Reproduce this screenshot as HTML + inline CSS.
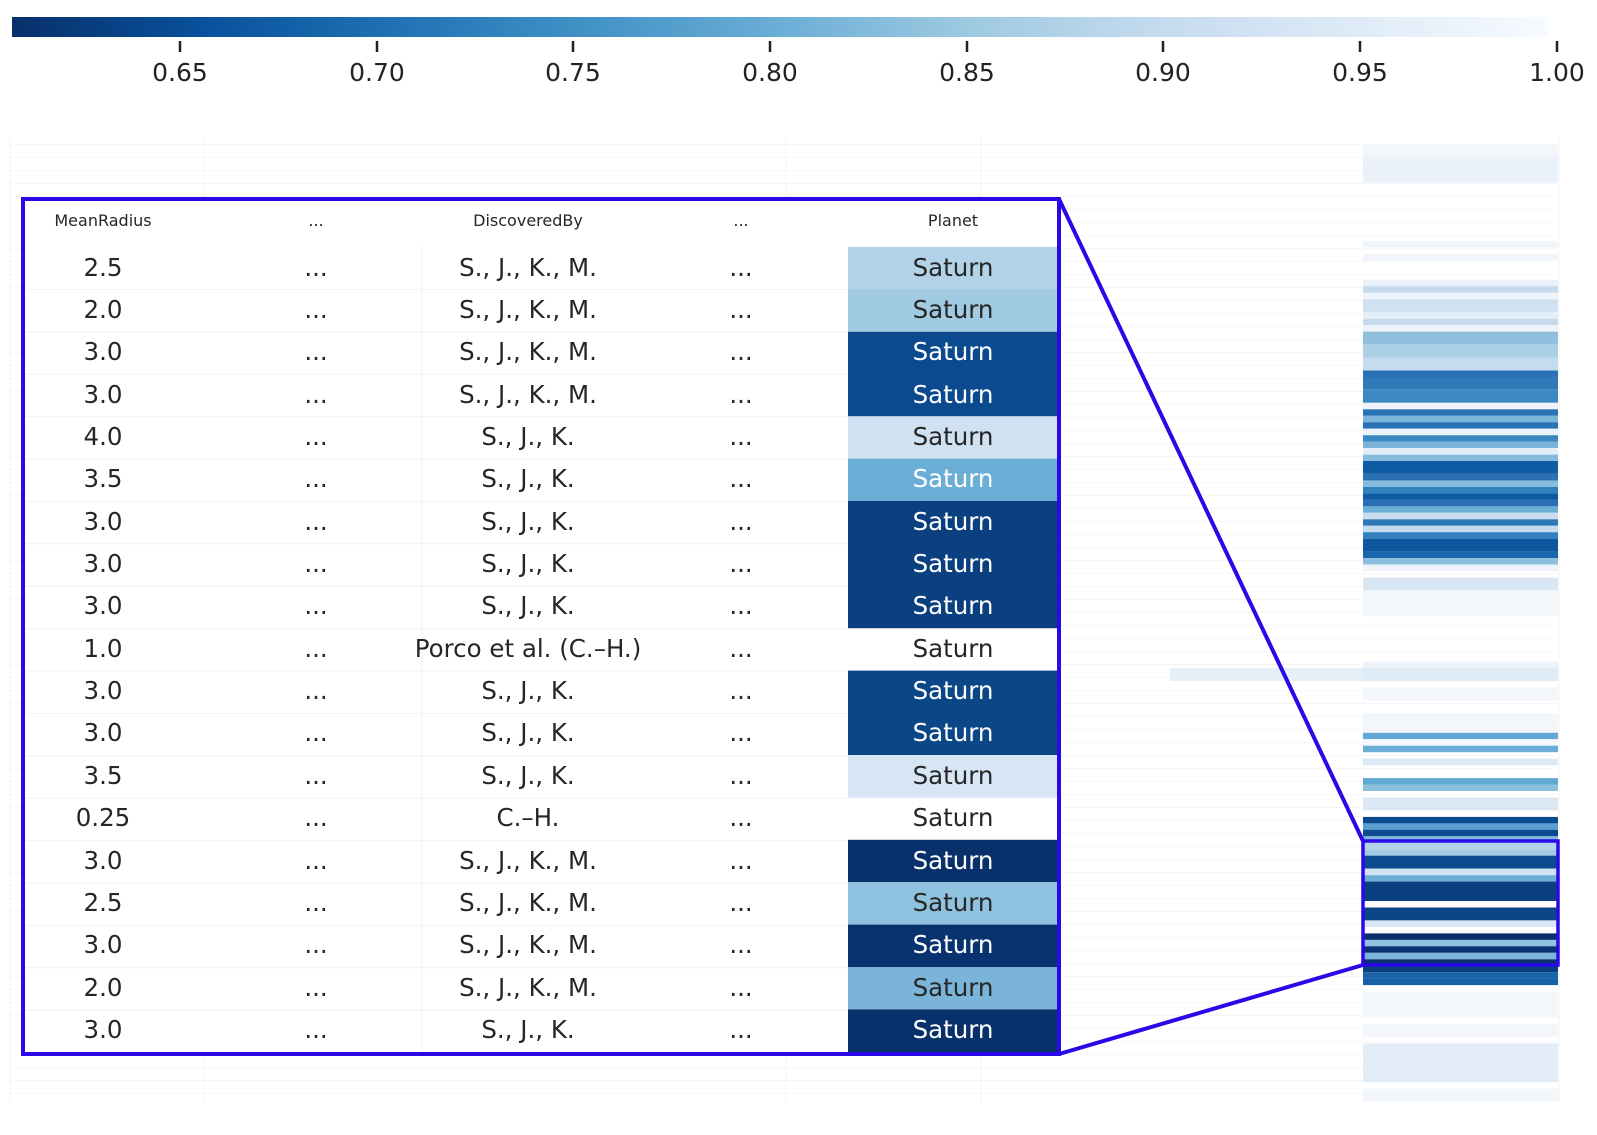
<!DOCTYPE html>
<html><head><meta charset="utf-8"><style>
html,body{margin:0;padding:0;background:#fff;}
svg{display:block;}
text{font-family:"DejaVu Sans","Liberation Sans",sans-serif;}
</style></head><body>
<svg width="1597" height="1135" viewBox="0 0 1597 1135" xmlns="http://www.w3.org/2000/svg">
<defs>
<linearGradient id="cb" x1="0" x2="1" y1="0" y2="0">
<stop offset="0" stop-color="#08306b"/>
<stop offset="0.125" stop-color="#08519c"/>
<stop offset="0.25" stop-color="#2171b5"/>
<stop offset="0.375" stop-color="#4292c6"/>
<stop offset="0.5" stop-color="#6baed6"/>
<stop offset="0.625" stop-color="#9ecae1"/>
<stop offset="0.75" stop-color="#c6dbef"/>
<stop offset="0.875" stop-color="#deebf7"/>
<stop offset="1" stop-color="#f7fbff"/>
</linearGradient>
<pattern id="grid" x="0" y="144" width="10" height="13" patternUnits="userSpaceOnUse">
<rect x="0" y="0" width="10" height="1" fill="#f6f6f6"/>
</pattern>
</defs>
<rect x="12" y="17" width="1536" height="20" fill="url(#cb)"/>
<g stroke="#222" stroke-width="2.5">
<line x1="180" y1="41" x2="180" y2="52"/><line x1="377" y1="41" x2="377" y2="52"/>
<line x1="573" y1="41" x2="573" y2="52"/><line x1="770" y1="41" x2="770" y2="52"/>
<line x1="967" y1="41" x2="967" y2="52"/><line x1="1163" y1="41" x2="1163" y2="52"/>
<line x1="1360" y1="41" x2="1360" y2="52"/><line x1="1557" y1="41" x2="1557" y2="52"/>
</g>
<g font-size="25" fill="#222" text-anchor="middle">
<text x="180" y="81">0.65</text><text x="377" y="81">0.70</text><text x="573" y="81">0.75</text>
<text x="770" y="81">0.80</text><text x="967" y="81">0.85</text><text x="1163" y="81">0.90</text>
<text x="1360" y="81">0.95</text><text x="1557" y="81">1.00</text>
</g>
<rect x="10" y="144" width="1546" height="958" fill="url(#grid)"/>
<g stroke="#f3f3f3" stroke-width="1">
<line x1="10" y1="138" x2="10" y2="1102"/><line x1="204" y1="138" x2="204" y2="1102"/>
<line x1="786" y1="138" x2="786" y2="1102"/><line x1="981" y1="138" x2="981" y2="1102"/>
<line x1="1559" y1="138" x2="1559" y2="1102"/>
</g>
<g>
<rect x="1363" y="144" width="195" height="12.94" fill="#f3f7fc"/>
<rect x="1363" y="156.9" width="195" height="25.9" fill="#eaf1f9"/>
<rect x="1363" y="241.1" width="195" height="6.5" fill="#f0f5fb"/>
<rect x="1363" y="254" width="195" height="6.5" fill="#f0f5fb"/>
<rect x="1363" y="279.9" width="195" height="6.5" fill="#e8f0f9"/>
<rect x="1363" y="286.3" width="195" height="6.5" fill="#c6daee"/>
<rect x="1363" y="292.8" width="195" height="6.5" fill="#eef4fa"/>
<rect x="1363" y="299.3" width="195" height="12.9" fill="#d0e1f2"/>
<rect x="1363" y="312.2" width="195" height="6.5" fill="#e3eef8"/>
<rect x="1363" y="318.7" width="195" height="6.5" fill="#c6daee"/>
<rect x="1363" y="325.2" width="195" height="6.5" fill="#eef4fa"/>
<rect x="1363" y="331.6" width="195" height="12.9" fill="#8fc1de"/>
<rect x="1363" y="344.6" width="195" height="12.9" fill="#acd0e6"/>
<rect x="1363" y="357.5" width="195" height="12.9" fill="#c6dbef"/>
<rect x="1363" y="370.5" width="195" height="6.5" fill="#2a70b4"/>
<rect x="1363" y="376.9" width="195" height="12.9" fill="#2f79b9"/>
<rect x="1363" y="389.9" width="195" height="12.9" fill="#3c88c3"/>
<rect x="1363" y="402.8" width="195" height="6.5" fill="#eef4fa"/>
<rect x="1363" y="409.3" width="195" height="6.5" fill="#2c73b6"/>
<rect x="1363" y="415.7" width="195" height="6.5" fill="#7cb7da"/>
<rect x="1363" y="422.2" width="195" height="6.5" fill="#2b72b5"/>
<rect x="1363" y="428.7" width="195" height="6.5" fill="#eaf2fb"/>
<rect x="1363" y="435.2" width="195" height="6.5" fill="#3b87c2"/>
<rect x="1363" y="441.6" width="195" height="6.5" fill="#7cb4d9"/>
<rect x="1363" y="448.1" width="195" height="6.5" fill="#e4eef8"/>
<rect x="1363" y="454.6" width="195" height="6.5" fill="#85bcdc"/>
<rect x="1363" y="461" width="195" height="12.9" fill="#105ca4"/>
<rect x="1363" y="474" width="195" height="6.5" fill="#2a70b3"/>
<rect x="1363" y="480.4" width="195" height="6.5" fill="#86bcdc"/>
<rect x="1363" y="486.9" width="195" height="6.5" fill="#3181bd"/>
<rect x="1363" y="493.4" width="195" height="6.5" fill="#0f5ba3"/>
<rect x="1363" y="499.9" width="195" height="6.5" fill="#2a6fb3"/>
<rect x="1363" y="506.3" width="195" height="6.5" fill="#6aaed6"/>
<rect x="1363" y="512.8" width="195" height="6.5" fill="#c9ddf0"/>
<rect x="1363" y="519.3" width="195" height="6.5" fill="#2f78b8"/>
<rect x="1363" y="525.7" width="195" height="6.5" fill="#c6dbef"/>
<rect x="1363" y="532.2" width="195" height="6.5" fill="#3181bd"/>
<rect x="1363" y="538.7" width="195" height="12.9" fill="#0d58a1"/>
<rect x="1363" y="551.6" width="195" height="6.5" fill="#1a66ad"/>
<rect x="1363" y="558.1" width="195" height="6.5" fill="#8cbfde"/>
<rect x="1363" y="564.6" width="195" height="6.5" fill="#eef4fa"/>
<rect x="1363" y="577.5" width="195" height="12.9" fill="#d9e7f5"/>
<rect x="1363" y="590.4" width="195" height="25.9" fill="#f3f8fd"/>
<rect x="1363" y="661.6" width="195" height="6.5" fill="#edf3fa"/>
<rect x="1170" y="668.1" width="193" height="12.9" fill="#e6eff8"/>
<rect x="1363" y="668.1" width="195" height="12.9" fill="#dfebf7"/>
<rect x="1363" y="687.5" width="195" height="12.9" fill="#f3f7fc"/>
<rect x="1363" y="713.4" width="195" height="19.4" fill="#f3f7fc"/>
<rect x="1363" y="732.8" width="195" height="6.5" fill="#63a8d3"/>
<rect x="1363" y="739.2" width="195" height="6.5" fill="#f5f9fd"/>
<rect x="1363" y="745.7" width="195" height="6.5" fill="#6aaed6"/>
<rect x="1363" y="758.7" width="195" height="6.5" fill="#dce9f6"/>
<rect x="1363" y="778.1" width="195" height="6.5" fill="#63a8d3"/>
<rect x="1363" y="784.5" width="195" height="6.5" fill="#8dc0dd"/>
<rect x="1363" y="797.5" width="195" height="12.9" fill="#dae8f5"/>
<rect x="1363" y="816.9" width="195" height="6.5" fill="#0a4b8d"/>
<rect x="1363" y="823.4" width="195" height="6.5" fill="#5a9fcf"/>
<rect x="1363" y="829.8" width="195" height="6.5" fill="#0b4a8f"/>
<rect x="1363" y="836.3" width="195" height="6.5" fill="#7fb7da"/>
<rect x="1363" y="842.8" width="195" height="6.5" fill="#b2d2e8"/>
<rect x="1363" y="849.3" width="195" height="6.5" fill="#a1cbe2"/>
<rect x="1363" y="855.7" width="195" height="12.9" fill="#0b4a8e"/>
<rect x="1363" y="868.7" width="195" height="6.5" fill="#d0e1f2"/>
<rect x="1363" y="875.2" width="195" height="6.5" fill="#6aaed6"/>
<rect x="1363" y="881.6" width="195" height="19.4" fill="#0a3f80"/>
<rect x="1363" y="907.5" width="195" height="12.9" fill="#0b4687"/>
<rect x="1363" y="920.4" width="195" height="6.5" fill="#d6e6f4"/>
<rect x="1363" y="933.4" width="195" height="6.5" fill="#08306b"/>
<rect x="1363" y="939.9" width="195" height="6.5" fill="#8fc2de"/>
<rect x="1363" y="946.3" width="195" height="6.5" fill="#083370"/>
<rect x="1363" y="952.8" width="195" height="6.5" fill="#7ab5d9"/>
<rect x="1363" y="959.3" width="195" height="6.5" fill="#08306b"/>
<rect x="1363" y="965.7" width="195" height="6.5" fill="#0a3f7d"/>
<rect x="1363" y="972.2" width="195" height="6.5" fill="#1c64aa"/>
<rect x="1363" y="978.6" width="195" height="6.5" fill="#1561a9"/>
<rect x="1363" y="991.6" width="195" height="25.9" fill="#f3f7fc"/>
<rect x="1363" y="1023.9" width="195" height="12.9" fill="#f3f7fc"/>
<rect x="1363" y="1043.3" width="195" height="38.8" fill="#e3edf8"/>
<rect x="1363" y="1088.6" width="195" height="12.9" fill="#f3f7fc"/>
</g>
<rect x="23" y="199" width="1036" height="855" fill="#fff"/>
<g fill="#262626" text-anchor="middle" font-size="16">
<text x="103" y="226">MeanRadius</text><text x="316" y="226">...</text>
<text x="528" y="226">DiscoveredBy</text><text x="741" y="226">...</text>
<text x="953" y="226">Planet</text>
</g>
<g stroke="#f2f2f2" stroke-width="1">
<line x1="25" y1="289.4" x2="1057" y2="289.4"/><line x1="25" y1="331.8" x2="1057" y2="331.8"/>
<line x1="25" y1="374.2" x2="1057" y2="374.2"/><line x1="25" y1="416.6" x2="1057" y2="416.6"/>
<line x1="25" y1="459" x2="1057" y2="459"/><line x1="25" y1="501.4" x2="1057" y2="501.4"/>
<line x1="25" y1="543.8" x2="1057" y2="543.8"/><line x1="25" y1="586.2" x2="1057" y2="586.2"/>
<line x1="25" y1="628.6" x2="1057" y2="628.6"/><line x1="25" y1="671" x2="1057" y2="671"/>
<line x1="25" y1="713.4" x2="1057" y2="713.4"/><line x1="25" y1="755.8" x2="1057" y2="755.8"/>
<line x1="25" y1="798.2" x2="1057" y2="798.2"/><line x1="25" y1="840.6" x2="1057" y2="840.6"/>
<line x1="25" y1="883" x2="1057" y2="883"/><line x1="25" y1="925.4" x2="1057" y2="925.4"/>
<line x1="25" y1="967.8" x2="1057" y2="967.8"/><line x1="25" y1="1010.2" x2="1057" y2="1010.2"/>
<line x1="422" y1="247" x2="422" y2="1052"/>
</g>
<g>
<rect x="848" y="247" width="211" height="42.4" fill="#b2d2e8"/>
<rect x="848" y="289.4" width="211" height="42.4" fill="#a1cbe2"/>
<rect x="848" y="331.8" width="211" height="84.8" fill="#0b4a8e"/>
<rect x="848" y="416.2" width="211" height="42.4" fill="#d0e1f2"/>
<rect x="848" y="458.6" width="211" height="42.4" fill="#6aaed6"/>
<rect x="848" y="501" width="211" height="127.2" fill="#0a3f80"/>
<rect x="848" y="670.6" width="211" height="84.8" fill="#0b4687"/>
<rect x="848" y="755" width="211" height="42.4" fill="#d6e6f4"/>
<rect x="848" y="839.8" width="211" height="42.4" fill="#08306b"/>
<rect x="848" y="882.2" width="211" height="42.4" fill="#8fc2de"/>
<rect x="848" y="924.6" width="211" height="42.4" fill="#083370"/>
<rect x="848" y="967" width="211" height="42.4" fill="#7ab5d9"/>
<rect x="848" y="1009.4" width="211" height="44.6" fill="#08306b"/>
</g>
<g font-size="24.5" text-anchor="middle" fill="#262626">
<g><text x="103" y="276">2.5</text><text x="316" y="276">...</text><text x="528" y="276">S., J., K., M.</text><text x="741" y="276">...</text><text x="953" y="276">Saturn</text></g>
<g><text x="103" y="318">2.0</text><text x="316" y="318">...</text><text x="528" y="318">S., J., K., M.</text><text x="741" y="318">...</text><text x="953" y="318">Saturn</text></g>
<g><text x="103" y="360">3.0</text><text x="316" y="360">...</text><text x="528" y="360">S., J., K., M.</text><text x="741" y="360">...</text><text x="953" y="360" fill="#fff">Saturn</text></g>
<g><text x="103" y="403">3.0</text><text x="316" y="403">...</text><text x="528" y="403">S., J., K., M.</text><text x="741" y="403">...</text><text x="953" y="403" fill="#fff">Saturn</text></g>
<g><text x="103" y="445">4.0</text><text x="316" y="445">...</text><text x="528" y="445">S., J., K.</text><text x="741" y="445">...</text><text x="953" y="445">Saturn</text></g>
<g><text x="103" y="487">3.5</text><text x="316" y="487">...</text><text x="528" y="487">S., J., K.</text><text x="741" y="487">...</text><text x="953" y="487" fill="#fff">Saturn</text></g>
<g><text x="103" y="530">3.0</text><text x="316" y="530">...</text><text x="528" y="530">S., J., K.</text><text x="741" y="530">...</text><text x="953" y="530" fill="#fff">Saturn</text></g>
<g><text x="103" y="572">3.0</text><text x="316" y="572">...</text><text x="528" y="572">S., J., K.</text><text x="741" y="572">...</text><text x="953" y="572" fill="#fff">Saturn</text></g>
<g><text x="103" y="614">3.0</text><text x="316" y="614">...</text><text x="528" y="614">S., J., K.</text><text x="741" y="614">...</text><text x="953" y="614" fill="#fff">Saturn</text></g>
<g><text x="103" y="657">1.0</text><text x="316" y="657">...</text><text x="528" y="657">Porco et al. (C.–H.)</text><text x="741" y="657">...</text><text x="953" y="657">Saturn</text></g>
<g><text x="103" y="699">3.0</text><text x="316" y="699">...</text><text x="528" y="699">S., J., K.</text><text x="741" y="699">...</text><text x="953" y="699" fill="#fff">Saturn</text></g>
<g><text x="103" y="741">3.0</text><text x="316" y="741">...</text><text x="528" y="741">S., J., K.</text><text x="741" y="741">...</text><text x="953" y="741" fill="#fff">Saturn</text></g>
<g><text x="103" y="784">3.5</text><text x="316" y="784">...</text><text x="528" y="784">S., J., K.</text><text x="741" y="784">...</text><text x="953" y="784">Saturn</text></g>
<g><text x="103" y="826">0.25</text><text x="316" y="826">...</text><text x="528" y="826">C.–H.</text><text x="741" y="826">...</text><text x="953" y="826">Saturn</text></g>
<g><text x="103" y="869">3.0</text><text x="316" y="869">...</text><text x="528" y="869">S., J., K., M.</text><text x="741" y="869">...</text><text x="953" y="869" fill="#fff">Saturn</text></g>
<g><text x="103" y="911">2.5</text><text x="316" y="911">...</text><text x="528" y="911">S., J., K., M.</text><text x="741" y="911">...</text><text x="953" y="911">Saturn</text></g>
<g><text x="103" y="953">3.0</text><text x="316" y="953">...</text><text x="528" y="953">S., J., K., M.</text><text x="741" y="953">...</text><text x="953" y="953" fill="#fff">Saturn</text></g>
<g><text x="103" y="996">2.0</text><text x="316" y="996">...</text><text x="528" y="996">S., J., K., M.</text><text x="741" y="996">...</text><text x="953" y="996">Saturn</text></g>
<g><text x="103" y="1038">3.0</text><text x="316" y="1038">...</text><text x="528" y="1038">S., J., K.</text><text x="741" y="1038">...</text><text x="953" y="1038" fill="#fff">Saturn</text></g>
</g>
<g fill="none" stroke="#2a08e8" stroke-width="4">
<rect x="23" y="199" width="1036" height="855"/>
<line x1="1059" y1="199" x2="1363" y2="841"/>
<line x1="1059" y1="1054" x2="1363" y2="965"/>
<rect x="1363" y="841" width="195" height="124" stroke-width="3.5"/>
</g>
</svg>
</body></html>
